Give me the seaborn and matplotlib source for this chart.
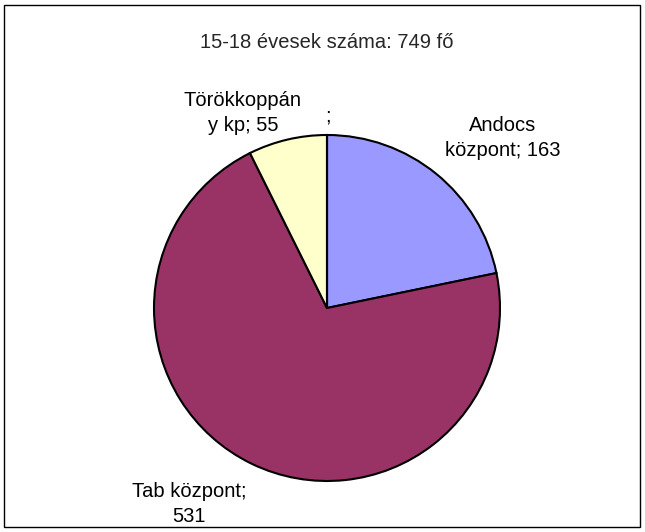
import seaborn as sns
import matplotlib.pyplot as plt
from matplotlib.patches import Rectangle

# adatok
telepulesek = ["Andocs központ", "Tab központ", "Törökkoppány kp", ""]
letszam = [163, 531, 55, 0]
szinek = ["#9999FF", "#993366", "#FFFFCC", "#CCFFFF"]
cim = "15-18 évesek száma: 749 fő"

sns.set_theme(style="white")
plt.rcParams['font.family'] = ['Liberation Sans', 'DejaVu Sans']

fig = plt.figure(figsize=(6.45, 5.32), dpi=100)
ax = fig.add_axes([0, 0, 1, 1])

# kör középpontja és sugara pixelben
cx, cy, r = 327, 308, 173

ax.pie(letszam, colors=sns.color_palette(szinek), startangle=90, counterclock=False,
       radius=1, wedgeprops=dict(edgecolor="black", linewidth=1.5))
ax.set_xlim(-cx / r, (645 - cx) / r)
ax.set_ylim((cy - 532) / r, cy / r)
ax.set_aspect('auto')
ax.axis('off')

# feliratok (pixel pozíciók -> adat koordináták)
cimkek = ["Andocs\nközpont; " + str(letszam[0]),
          "Tab központ;\n" + str(letszam[1]),
          "Törökkoppán\ny kp; " + str(letszam[2]),
          telepulesek[3] + ";"]
poz = [(503, 138), (189, 504), (243, 113), (328, 116)]
for t, (px, py) in zip(cimkek, poz):
    ax.text((px - cx) / r, (cy - py) / r, t, ha='center', va='center',
            fontsize=14.5, linespacing=1.4, color='black')

fig.text(327 / 645, 1 - 42 / 532, cim, ha='center', va='center', fontsize=14.5)

# keret
fig.patches.append(Rectangle((4 / 645, 5 / 532), 636 / 645, 522 / 532, transform=fig.transFigure,
                             fill=False, edgecolor='black', linewidth=1))

fig.savefig("out.png", dpi=100)
